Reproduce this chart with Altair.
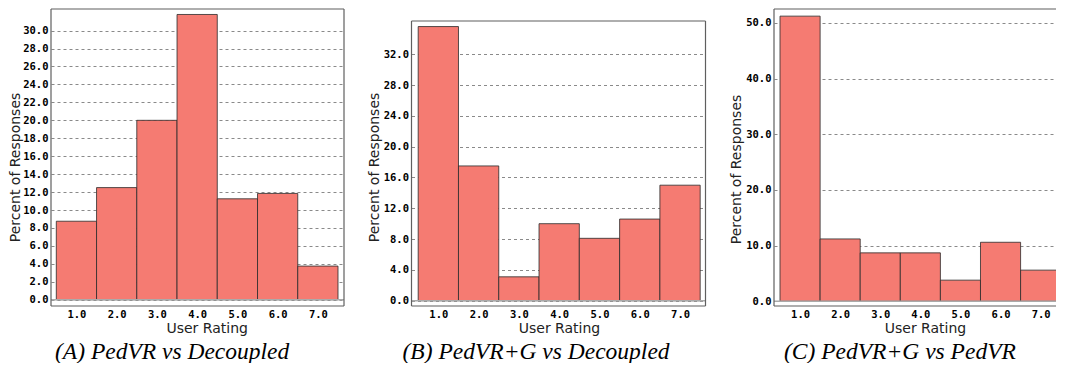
import altair as alt
import pandas as pd

ratings = [1, 2, 3, 4, 5, 6, 7]
vals_a = [8.75, 12.5, 20.0, 31.8, 11.25, 11.85, 3.75]
vals_b = [35.6, 17.5, 3.1, 10.0, 8.1, 10.6, 15.0]
vals_c = [51.2, 11.2, 8.7, 8.7, 3.8, 10.6, 5.6]

ticks_a = [0, 2, 4, 6, 8, 10, 12, 14, 16, 18, 20, 22, 24, 26, 28, 30]
ticks_b = [0, 4, 8, 12, 16, 20, 24, 28, 32]
ticks_c = [0, 10, 20, 30, 40, 50]

captions = ["(A) PedVR vs Decoupled", "(B) PedVR+G vs Decoupled", "(C) PedVR+G vs PedVR"]

H = 297
FILL = "#F57B72"
FRAME = "#5f5f5f"
MONO = "DejaVu Sans Mono"
SANS = "DejaVu Sans"
LBL = 10.5
TTL = 14


def panel(vals, yticks, ydom, xdom, W, frame_top, right, ytx, yty, xtx, xty, caption, cap_dx):
    df = pd.DataFrame({"rating": ratings, "pct": vals})
    yscale = alt.Scale(domain=ydom, nice=False, zero=False)
    bars = (
        alt.Chart(df)
        .transform_calculate(lo="datum.rating - 0.5", hi="datum.rating + 0.5", base="0")
        .mark_rect(fill=FILL, stroke="#2a2a2a", strokeOpacity=0.8, strokeWidth=1, clip=True)
        .encode(
            x=alt.X(
                "lo:Q",
                scale=alt.Scale(domain=xdom, nice=False, zero=False),
                axis=alt.Axis(
                    values=ratings, tickCount=100, format=".1f", title="User Rating",
                    grid=False, ticks=False, domain=False, labelFont=MONO,
                    labelFontWeight="bold", labelFontSize=LBL, labelColor="#000",
                    labelPadding=3, labelOverlap=False,
                    titleFont=SANS, titleFontSize=TTL, titleFontWeight="normal",
                    titleColor="#222", titleX=xtx, titleY=xty, titleBaseline="middle",
                    titleAlign="center",
                ),
            ),
            x2="hi:Q",
            y=alt.Y(
                "pct:Q",
                scale=yscale,
                axis=alt.Axis(
                    values=yticks, tickCount=100, format=".1f",
                    title="Percent of Responses",
                    grid=True, gridDash=[3, 3], gridColor="#8a8a8a", gridWidth=1,
                    ticks=False, domain=False, labelFont=MONO, labelFontWeight="bold",
                    labelFontSize=LBL, labelColor="#000", labelPadding=3,
                    labelOverlap=False,
                    titleFont=SANS, titleFontSize=TTL, titleFontWeight="normal",
                    titleColor="#222", titleX=ytx, titleY=yty, titleBaseline="middle",
                    titleAlign="center", titleAngle=270,
                ),
            ),
            y2="base:Q",
        )
    )
    zero = (
        alt.Chart(pd.DataFrame({"pct": [0]}))
        .mark_rule(color="#aaaaaa", strokeWidth=1.6)
        .encode(y=alt.Y("pct:Q", scale=yscale), x=alt.value(0), x2=alt.value(W))
    )
    one = alt.Data(values=[{}])
    frames = [
        alt.Chart(one).mark_rule(color=FRAME, strokeWidth=1.2).encode(
            x=alt.value(0), x2=alt.value(W), y=alt.value(frame_top)),
        alt.Chart(one).mark_rule(color=FRAME, strokeWidth=1.2).encode(
            x=alt.value(0), x2=alt.value(W), y=alt.value(H)),
        alt.Chart(one).mark_rule(color=FRAME, strokeWidth=1.2).encode(
            x=alt.value(0), y=alt.value(frame_top), y2=alt.value(H)),
    ]
    if right:
        frames.append(
            alt.Chart(one).mark_rule(color=FRAME, strokeWidth=1.2).encode(
                x=alt.value(W), y=alt.value(frame_top), y2=alt.value(H)))
    return alt.layer(bars, zero, *frames).properties(
        width=W,
        height=H,
        title=alt.TitleParams(
            text=caption, orient="bottom", anchor="start", frame="group", dx=cap_dx,
            offset=4, font="Liberation Serif", fontSize=23.5, fontStyle="italic",
            fontWeight="normal", color="#000",
        ),
    )


pa = panel(vals_a, ticks_a, [-0.70, 32.41], [0.368, 7.649], 293, 0, True,
           -36, 158, 155.7, 22.5, captions[0], 4)
pb = panel(vals_b, ticks_b, [-0.69, 37.88], [0.334, 7.632], 294, 12, True,
           -36.7, 158, 147.5, 22.5, captions[1], -9)
pc = panel(vals_c, ticks_c, [-0.84, 52.48], [0.35, 7.383], 282, 0, False,
           -38, 160, 151, 22.5, captions[2], 10)

chart = (
    alt.hconcat(pa, pb, pc, spacing=22.5)
    .properties(padding=0)
    .configure_view(strokeWidth=0)
)

chart.save("out.html", embed_options={"renderer": "svg", "actions": False})
